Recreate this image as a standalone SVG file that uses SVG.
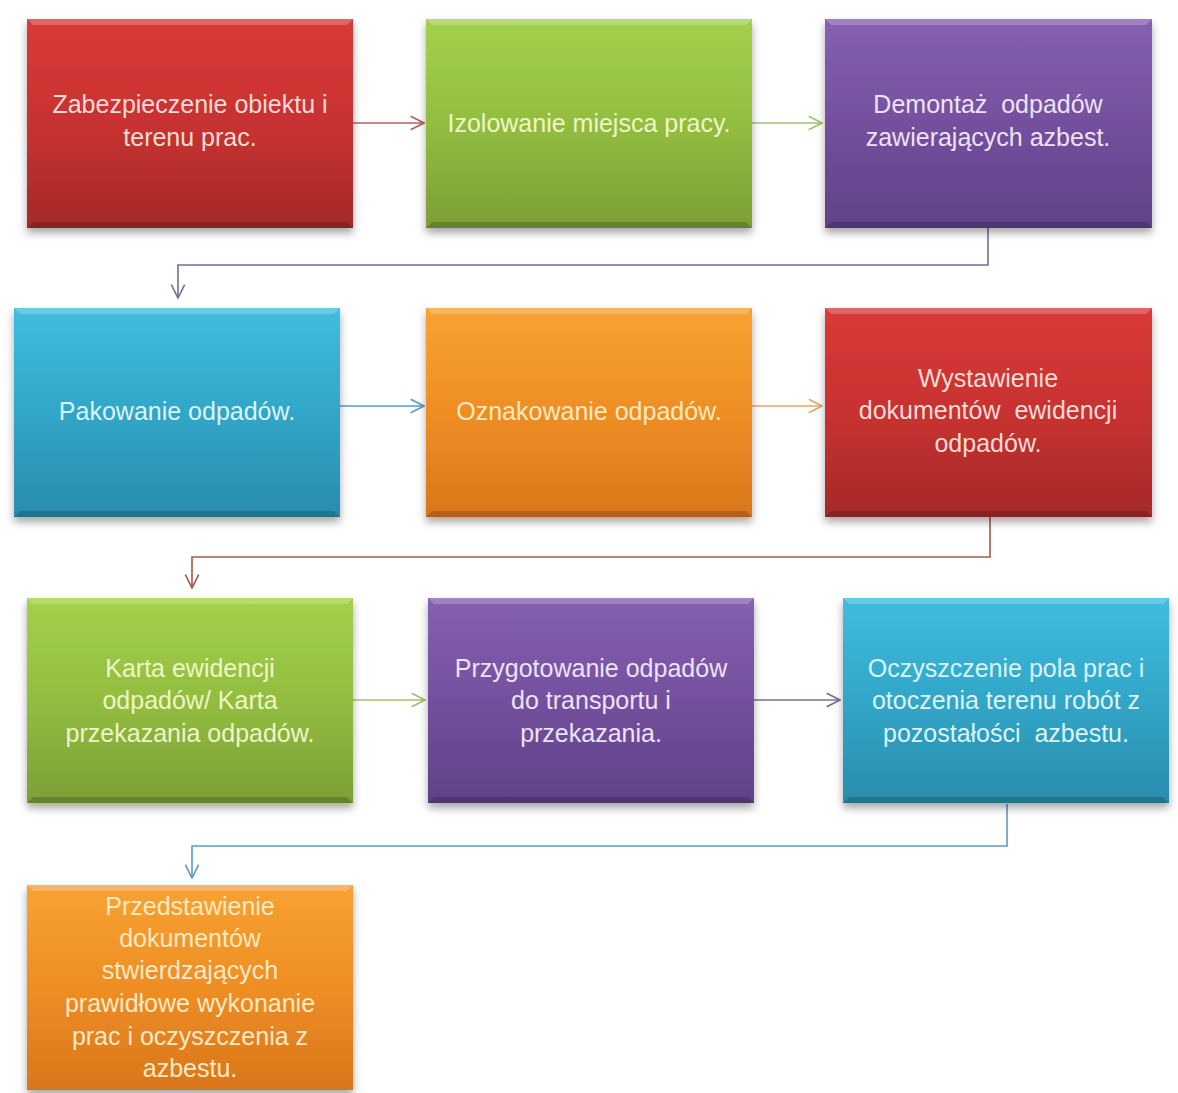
<svg xmlns="http://www.w3.org/2000/svg" width="1178" height="1093" viewBox="0 0 1178 1093">
<style>
.lbl{font-family:"Liberation Sans","Open Sans",Arial,sans-serif;font-size:25px;text-anchor:middle;dominant-baseline:central;white-space:pre}
.conn{fill:none;stroke-width:1.6}
.hl{fill:#ffffff;opacity:0.22}
.dk{fill:#000000;opacity:0.18}
</style>
<defs>
<filter id="sh" x="-10%" y="-10%" width="120%" height="130%">
<feDropShadow dx="0" dy="5" stdDeviation="4" flood-color="#000" flood-opacity="0.35"/>
</filter>
<linearGradient id="gRed" x1="0" y1="0" x2="0" y2="1"><stop offset="0" stop-color="#d93a38"/><stop offset="0.5" stop-color="#c83230"/><stop offset="1" stop-color="#a5292a"/></linearGradient>
<linearGradient id="gGreen" x1="0" y1="0" x2="0" y2="1"><stop offset="0" stop-color="#a4d14c"/><stop offset="0.5" stop-color="#92bd40"/><stop offset="1" stop-color="#7c9f36"/></linearGradient>
<linearGradient id="gPurple" x1="0" y1="0" x2="0" y2="1"><stop offset="0" stop-color="#8660b2"/><stop offset="0.5" stop-color="#74509e"/><stop offset="1" stop-color="#5f4287"/></linearGradient>
<linearGradient id="gCyan" x1="0" y1="0" x2="0" y2="1"><stop offset="0" stop-color="#40bddf"/><stop offset="0.5" stop-color="#31a6c8"/><stop offset="1" stop-color="#2a8cad"/></linearGradient>
<linearGradient id="gOrange" x1="0" y1="0" x2="0" y2="1"><stop offset="0" stop-color="#f8a232"/><stop offset="0.5" stop-color="#ee8e24"/><stop offset="1" stop-color="#d9761c"/></linearGradient>
<marker id="aRed" viewBox="0 0 12 12" refX="11" refY="6" markerWidth="16" markerHeight="16" markerUnits="userSpaceOnUse" orient="auto"><path d="M1,1 L11,6 L1,11" fill="none" stroke="#b06262" stroke-width="1.2"/></marker>
<marker id="aGreen" viewBox="0 0 12 12" refX="11" refY="6" markerWidth="16" markerHeight="16" markerUnits="userSpaceOnUse" orient="auto"><path d="M1,1 L11,6 L1,11" fill="none" stroke="#9fc26e" stroke-width="1.2"/></marker>
<marker id="aPurple" viewBox="0 0 12 12" refX="11" refY="6" markerWidth="16" markerHeight="16" markerUnits="userSpaceOnUse" orient="auto"><path d="M1,1 L11,6 L1,11" fill="none" stroke="#7a6c92" stroke-width="1.2"/></marker>
<marker id="aBlue" viewBox="0 0 12 12" refX="11" refY="6" markerWidth="16" markerHeight="16" markerUnits="userSpaceOnUse" orient="auto"><path d="M1,1 L11,6 L1,11" fill="none" stroke="#5a9cc0" stroke-width="1.2"/></marker>
<marker id="aOrange" viewBox="0 0 12 12" refX="11" refY="6" markerWidth="16" markerHeight="16" markerUnits="userSpaceOnUse" orient="auto"><path d="M1,1 L11,6 L1,11" fill="none" stroke="#e2a868" stroke-width="1.2"/></marker>
<marker id="aBrown" viewBox="0 0 12 12" refX="11" refY="6" markerWidth="16" markerHeight="16" markerUnits="userSpaceOnUse" orient="auto"><path d="M1,1 L11,6 L1,11" fill="none" stroke="#a85848" stroke-width="1.2"/></marker>
</defs>
<rect width="1178" height="1093" fill="#ffffff"/>

<g id="connectors">
<path class="conn" stroke="#b06262" marker-end="url(#aRed)" d="M353,123 H424"/>
<path class="conn" stroke="#9fc26e" marker-end="url(#aGreen)" d="M752,123 H822"/>
<path class="conn" stroke="#7a6c92" marker-end="url(#aPurple)" d="M988,228 V265 H178 V298"/>
<path class="conn" stroke="#5a9cc0" marker-end="url(#aBlue)" d="M340,406 H424"/>
<path class="conn" stroke="#e2a868" marker-end="url(#aOrange)" d="M752,406 H822"/>
<path class="conn" stroke="#a85848" marker-end="url(#aBrown)" d="M990,517 V557 H192 V588"/>
<path class="conn" stroke="#9fc26e" marker-end="url(#aGreen)" d="M353,700 H425"/>
<path class="conn" stroke="#7a6c92" marker-end="url(#aPurple)" d="M754,700 H840"/>
<path class="conn" stroke="#5a9cc0" marker-end="url(#aBlue)" d="M1007,804 V846 H192 V878"/>
</g>

<g id="n1">
<rect x="27" y="19" width="326" height="209" fill="url(#gRed)" filter="url(#sh)"/>
<path class="hl" d="M27,19 H353 L347,25 H33 Z"/>
<path class="dk" d="M27,228 H353 L347,222 H33 Z"/>
<text class="lbl" fill="#f6dcd6"><tspan x="190" y="104">Zabezpieczenie obiektu i</tspan><tspan x="190" y="137">terenu prac.</tspan></text>
</g>

<g id="n2">
<rect x="426" y="19" width="326" height="209" fill="url(#gGreen)" filter="url(#sh)"/>
<path class="hl" d="M426,19 H752 L746,25 H432 Z"/>
<path class="dk" d="M426,228 H752 L746,222 H432 Z"/>
<text class="lbl" fill="#eef6c6"><tspan x="589" y="123">Izolowanie miejsca pracy.</tspan></text>
</g>

<g id="n3">
<rect x="825" y="19" width="327" height="209" fill="url(#gPurple)" filter="url(#sh)"/>
<path class="hl" d="M825,19 H1152 L1146,25 H831 Z"/>
<path class="dk" d="M825,228 H1152 L1146,222 H831 Z"/>
<text class="lbl" fill="#eee2f6"><tspan x="988" y="104">Demontaż  odpadów</tspan><tspan x="988" y="137">zawierających azbest.</tspan></text>
</g>

<g id="n4">
<rect x="14" y="308" width="326" height="209" fill="url(#gCyan)" filter="url(#sh)"/>
<path class="hl" d="M14,308 H340 L334,314 H20 Z"/>
<path class="dk" d="M14,517 H340 L334,511 H20 Z"/>
<text class="lbl" fill="#dcf4f6"><tspan x="177" y="411">Pakowanie odpadów.</tspan></text>
</g>

<g id="n5">
<rect x="426" y="308" width="326" height="209" fill="url(#gOrange)" filter="url(#sh)"/>
<path class="hl" d="M426,308 H752 L746,314 H432 Z"/>
<path class="dk" d="M426,517 H752 L746,511 H432 Z"/>
<text class="lbl" fill="#fde9c4"><tspan x="589" y="411">Oznakowanie odpadów.</tspan></text>
</g>

<g id="n6">
<rect x="825" y="308" width="327" height="209" fill="url(#gRed)" filter="url(#sh)"/>
<path class="hl" d="M825,308 H1152 L1146,314 H831 Z"/>
<path class="dk" d="M825,517 H1152 L1146,511 H831 Z"/>
<text class="lbl" fill="#f6dcd6"><tspan x="988" y="378">Wystawienie</tspan><tspan x="988" y="410">dokumentów  ewidencji</tspan><tspan x="988" y="443">odpadów.</tspan></text>
</g>

<g id="n7">
<rect x="27" y="598" width="326" height="205" fill="url(#gGreen)" filter="url(#sh)"/>
<path class="hl" d="M27,598 H353 L347,604 H33 Z"/>
<path class="dk" d="M27,803 H353 L347,797 H33 Z"/>
<text class="lbl" fill="#eef6c6"><tspan x="190" y="668">Karta ewidencji</tspan><tspan x="190" y="700">odpadów/ Karta</tspan><tspan x="190" y="733">przekazania odpadów.</tspan></text>
</g>

<g id="n8">
<rect x="428" y="598" width="326" height="205" fill="url(#gPurple)" filter="url(#sh)"/>
<path class="hl" d="M428,598 H754 L748,604 H434 Z"/>
<path class="dk" d="M428,803 H754 L748,797 H434 Z"/>
<text class="lbl" fill="#eee2f6"><tspan x="591" y="668">Przygotowanie odpadów</tspan><tspan x="591" y="700">do transportu i</tspan><tspan x="591" y="733">przekazania.</tspan></text>
</g>

<g id="n9">
<rect x="843" y="598" width="326" height="205" fill="url(#gCyan)" filter="url(#sh)"/>
<path class="hl" d="M843,598 H1169 L1163,604 H849 Z"/>
<path class="dk" d="M843,803 H1169 L1163,797 H849 Z"/>
<text class="lbl" fill="#dcf4f6"><tspan x="1006" y="668">Oczyszczenie pola prac i</tspan><tspan x="1006" y="700">otoczenia terenu robót z</tspan><tspan x="1006" y="733">pozostałości  azbestu.</tspan></text>
</g>

<g id="n10">
<rect x="27" y="885" width="326" height="205" fill="url(#gOrange)" filter="url(#sh)"/>
<path class="hl" d="M27,885 H353 L347,891 H33 Z"/>
<text class="lbl" fill="#fde9c4"><tspan x="190" y="906">Przedstawienie</tspan><tspan x="190" y="938">dokumentów</tspan><tspan x="190" y="970">stwierdzających</tspan><tspan x="190" y="1003">prawidłowe wykonanie</tspan><tspan x="190" y="1036">prac i oczyszczenia z</tspan><tspan x="190" y="1068">azbestu.</tspan></text>
</g>
</svg>
